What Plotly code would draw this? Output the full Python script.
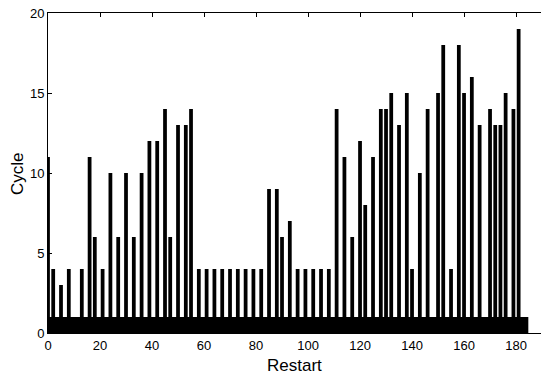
import plotly.graph_objects as go

restarts = list(range(185))
cycles = [
    11, 1, 4, 1, 1, 3, 1, 1, 4, 1,
    1, 1, 1, 4, 1, 1, 11, 1, 6, 1,
    1, 4, 1, 1, 10, 1, 1, 6, 1, 1,
    10, 1, 1, 6, 1, 1, 10, 1, 1, 12,
    1, 1, 12, 1, 1, 14, 1, 6, 1, 1,
    13, 1, 1, 13, 1, 14, 1, 1, 4, 1,
    1, 4, 1, 1, 4, 1, 1, 4, 1, 1,
    4, 1, 1, 4, 1, 1, 4, 1, 1, 4,
    1, 1, 4, 1, 1, 9, 1, 1, 9, 1,
    6, 1, 1, 7, 1, 1, 4, 1, 1, 4,
    1, 1, 4, 1, 1, 4, 1, 1, 4, 1,
    1, 14, 1, 1, 11, 1, 1, 6, 1, 1,
    12, 1, 8, 1, 1, 11, 1, 1, 14, 1,
    14, 1, 15, 1, 1, 13, 1, 1, 15, 1,
    4, 1, 1, 10, 1, 1, 14, 1, 1, 1,
    15, 1, 18, 1, 1, 4, 1, 1, 18, 1,
    15, 1, 1, 16, 1, 1, 13, 1, 1, 1,
    14, 1, 13, 1, 13, 1, 15, 1, 1, 14,
    1, 19, 1, 1, 1,
]
x_ticks = [0, 20, 40, 60, 80, 100, 120, 140, 160, 180]
y_ticks = [0, 5, 10, 15, 20]

fig = go.Figure(go.Bar(
    x=restarts, y=cycles, width=1.45,
    marker=dict(color="black", line=dict(width=0)),
))

font = "Liberation Sans, Arial, Helvetica, sans-serif"
fig.update_layout(
    width=541, height=377,
    margin=dict(l=48, r=0, t=13, b=44),
    paper_bgcolor="white", plot_bgcolor="white",
    showlegend=False,
    font=dict(family=font, size=13, color="black"),
    annotations=[
        dict(text="Restart", xref="paper", yref="paper", x=0.5, y=-0.103,
             xanchor="center", yanchor="middle", showarrow=False,
             font=dict(size=17)),
        dict(text="Cycle", xref="paper", yref="paper", x=-0.063, y=0.5,
             xanchor="center", yanchor="middle", showarrow=False,
             textangle=-90, font=dict(size=17)),
    ],
    xaxis=dict(
        range=[0, 189.6], tickvals=x_ticks, ticks="inside", ticklen=4,
        tickcolor="black", showline=True, linecolor="black", linewidth=1,
        mirror="ticks", showgrid=False, zeroline=False, automargin=False,
        tickfont=dict(size=13),
    ),
    yaxis=dict(
        range=[0, 20], tickvals=y_ticks, ticks="inside", ticklen=4,
        tickcolor="black", showline=True, linecolor="black", linewidth=1,
        mirror=False, showgrid=False, zeroline=False, automargin=False,
        tickfont=dict(size=13),
    ),
    yaxis2=dict(
        overlaying="y", side="right", range=[0, 20], tickvals=y_ticks,
        ticks="inside", ticklen=4, tickcolor="black", showline=False,
        showticklabels=False, showgrid=False, zeroline=False, automargin=False,
    ),
)
fig.write_html(
    "out.html",
    config={"displayModeBar": False},
    post_script="document.body.style.margin='0';document.body.style.overflow='hidden';",
)
